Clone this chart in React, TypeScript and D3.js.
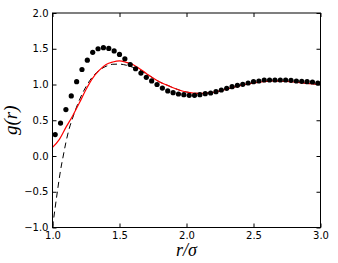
import React, { useEffect, useRef } from "react";
import * as d3 from "d3";

// simulation points (black dots)
const dotR = [1.02, 1.06, 1.10, 1.14, 1.18, 1.22, 1.26, 1.30, 1.34, 1.38, 1.42, 1.46, 1.50, 1.54, 1.58, 1.62, 1.66, 1.70, 1.74, 1.78, 1.82, 1.86, 1.90, 1.94, 1.98, 2.02, 2.06, 2.10, 2.14, 2.18, 2.22, 2.26, 2.30, 2.34, 2.38, 2.42, 2.46, 2.50, 2.54, 2.58, 2.62, 2.66, 2.70, 2.74, 2.78, 2.82, 2.86, 2.90, 2.94, 2.98];
const dotG = [0.30, 0.46, 0.65, 0.84, 1.04, 1.21, 1.34, 1.45, 1.50, 1.515, 1.505, 1.47, 1.42, 1.36, 1.28, 1.22, 1.16, 1.10, 1.05, 1.00, 0.95, 0.91, 0.885, 0.867, 0.857, 0.849, 0.849, 0.857, 0.871, 0.881, 0.899, 0.923, 0.947, 0.969, 0.989, 1.003, 1.021, 1.039, 1.049, 1.063, 1.063, 1.063, 1.063, 1.063, 1.059, 1.049, 1.045, 1.039, 1.035, 1.021];

// theory curve (red)
const redR = [1.00, 1.05, 1.10, 1.15, 1.20, 1.25, 1.30, 1.35, 1.40, 1.45, 1.50, 1.55, 1.60, 1.65, 1.70, 1.75, 1.80, 1.85, 1.90, 1.95, 2.00, 2.05, 2.10, 2.15, 2.20, 2.25, 2.30, 2.35, 2.40, 2.45, 2.50, 2.55, 2.60, 2.65, 2.70, 2.75, 2.80, 2.85, 2.90, 2.95, 3.00];
const redG = [0.12, 0.23, 0.40, 0.56, 0.74, 0.93, 1.09, 1.20, 1.28, 1.315, 1.33, 1.31, 1.28, 1.22, 1.155, 1.09, 1.035, 0.995, 0.955, 0.92, 0.895, 0.88, 0.875, 0.88, 0.89, 0.91, 0.935, 0.96, 0.985, 1.005, 1.02, 1.035, 1.045, 1.05, 1.048, 1.043, 1.035, 1.025, 1.015, 1.007, 1.00];

// second curve (black dashed)
const dashR = [1.00, 1.02, 1.04, 1.06, 1.08, 1.10, 1.12, 1.15, 1.20, 1.25, 1.30, 1.35, 1.40, 1.45, 1.50, 1.55, 1.60, 1.65, 1.70, 1.75, 1.80, 1.85, 1.90, 1.95, 2.00, 2.05, 2.10, 2.15, 2.20, 2.25, 2.30, 2.35, 2.40, 2.45, 2.50, 2.55, 2.60, 2.65, 2.70, 2.75, 2.80, 2.85, 2.90, 2.95, 3.00];
const dashG = [-1.0, -0.72, -0.45, -0.20, 0.0, 0.19, 0.35, 0.53, 0.78, 0.97, 1.11, 1.20, 1.255, 1.283, 1.285, 1.27, 1.24, 1.20, 1.15, 1.09, 1.035, 0.995, 0.955, 0.92, 0.895, 0.88, 0.875, 0.88, 0.89, 0.91, 0.935, 0.96, 0.985, 1.005, 1.02, 1.035, 1.045, 1.05, 1.048, 1.043, 1.035, 1.025, 1.015, 1.007, 1.00];

const xTicks = [1.0, 1.5, 2.0, 2.5, 3.0];
const yTicks = [-1.0, -0.5, 0.0, 0.5, 1.0, 1.5, 2.0];

const App = () => {
  const svgRef = useRef(null);

  useEffect(() => {
    const width = 338, height = 263;
    const left = 52.5, right = 320.5, top = 13, bottom = 227.5;

    const svg = d3.select(svgRef.current);
    svg.selectAll("*").remove();

    const x = d3.scaleLinear().domain([1, 3]).range([left, right]);
    const y = d3.scaleLinear().domain([-1, 2]).range([bottom, top]);
    const fmt = d3.format(".1f");

    const plot = svg.append("g");
    plot.append("clipPath").attr("id", "clip")
      .append("rect").attr("x", left).attr("y", top)
      .attr("width", right - left).attr("height", bottom - top);

    const line = d3.line().x(d => x(d[0])).y(d => y(d[1])).curve(d3.curveMonotoneX);

    // dashed curve
    plot.append("path")
      .datum(dashR.map((r, i) => [r, dashG[i]]))
      .attr("d", line)
      .attr("clip-path", "url(#clip)")
      .attr("fill", "none")
      .attr("stroke", "#000")
      .attr("stroke-width", 1)
      .attr("stroke-dasharray", "6,4");

    // red curve
    plot.append("path")
      .datum(redR.map((r, i) => [r, redG[i]]))
      .attr("d", line)
      .attr("clip-path", "url(#clip)")
      .attr("fill", "none")
      .attr("stroke", "#ff0000")
      .attr("stroke-width", 1.2);

    // dots
    plot.selectAll("circle")
      .data(dotR.map((r, i) => [r, dotG[i]]))
      .join("circle")
      .attr("cx", d => x(d[0]))
      .attr("cy", d => y(d[1]))
      .attr("r", 2.6)
      .attr("fill", "#000");

    // axes with inward ticks
    const styleAxis = g => {
      g.select(".domain").remove();
      g.selectAll("line").attr("stroke", "#000").attr("stroke-width", 1);
      g.selectAll("text").attr("font-family", "DejaVu Sans").attr("font-size", 10).attr("fill", "#000");
    };

    svg.append("g").attr("transform", `translate(0,${bottom})`)
      .call(d3.axisBottom(x).tickValues(xTicks).tickFormat(fmt).tickSizeInner(-4).tickSizeOuter(0).tickPadding(4))
      .call(styleAxis);
    svg.append("g").attr("transform", `translate(0,${top})`)
      .call(d3.axisTop(x).tickValues(xTicks).tickFormat(() => "").tickSizeInner(-4).tickSizeOuter(0))
      .call(styleAxis);
    svg.append("g").attr("transform", `translate(${left},0)`)
      .call(d3.axisLeft(y).tickValues(yTicks).tickFormat(fmt).tickSizeInner(-4).tickSizeOuter(0).tickPadding(4))
      .call(styleAxis);
    svg.append("g").attr("transform", `translate(${right},0)`)
      .call(d3.axisRight(y).tickValues(yTicks).tickFormat(() => "").tickSizeInner(-4).tickSizeOuter(0))
      .call(styleAxis);

    // frame
    svg.append("rect")
      .attr("x", left).attr("y", top)
      .attr("width", right - left).attr("height", bottom - top)
      .attr("fill", "none").attr("stroke", "#000").attr("stroke-width", 1);

    // axis labels
    svg.append("text")
      .attr("x", (left + right) / 2).attr("y", 256)
      .attr("text-anchor", "middle")
      .attr("font-family", "Liberation Serif").attr("font-style", "italic").attr("font-size", 18)
      .text("r/σ");

    svg.append("text")
      .attr("transform", `translate(17,${(top + bottom) / 2}) rotate(-90)`)
      .attr("text-anchor", "middle")
      .attr("font-family", "Liberation Serif").attr("font-style", "italic").attr("font-size", 19)
      .text("g(r)");

    svg.attr("width", width).attr("height", height);
  }, []);

  return <svg ref={svgRef} style={{ position: "absolute", left: 0, top: 0, background: "#fff" }}></svg>;
};

export default App;
